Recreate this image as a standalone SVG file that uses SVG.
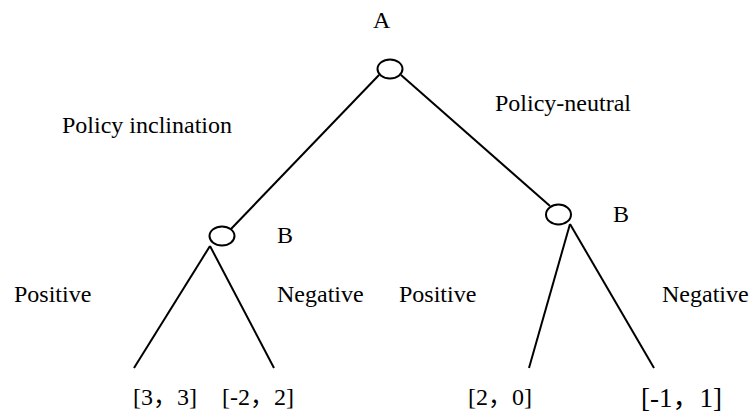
<svg xmlns="http://www.w3.org/2000/svg" width="749" height="414" viewBox="0 0 749 414">
<style>
.t{font-family:"Liberation Serif","Times New Roman",serif;font-size:24px;fill:#000}
.c{font-family:"Noto Sans CJK SC",sans-serif}
.big{font-size:27px}
.n{fill:#fff;stroke:#000;stroke-width:2}
.e{stroke:#000;stroke-width:2;fill:none}
</style>
<rect width="749" height="414" fill="#fff"/>
<g id="connectors">
<line class="e" x1="379" y1="75" x2="231" y2="229"/>
<line class="e" x1="401" y1="75" x2="550" y2="206"/>
<line class="e" x1="210" y1="246" x2="134" y2="368"/>
<line class="e" x1="210" y1="246" x2="274" y2="368"/>
<line class="e" x1="570" y1="224" x2="529" y2="368"/>
<line class="e" x1="570" y1="224" x2="654" y2="368"/>
</g>
<g id="nodeA"><ellipse class="n" cx="390" cy="69" rx="12.5" ry="9.5"/><text class="t" x="373" y="28">A</text></g>
<g id="nodeB1"><ellipse class="n" cx="222" cy="236" rx="12.5" ry="9.5"/><text class="t" x="277" y="243">B</text></g>
<g id="nodeB2"><ellipse class="n" cx="558.5" cy="214.5" rx="12.5" ry="10"/><text class="t" x="613" y="222">B</text></g>
<g id="labels">
<text class="t" x="62" y="133">Policy inclination</text>
<text class="t" x="495" y="111">Policy-neutral</text>
<text class="t" x="14" y="302">Positive</text>
<text class="t" x="277" y="302">Negative</text>
<text class="t" x="399" y="302">Positive</text>
<text class="t" x="662" y="302">Negative</text>
</g>
<g id="leaves">
<text class="t" x="133" y="405">[3<tspan class="c">，</tspan>3]</text>
<text class="t" x="222" y="405">[-2<tspan class="c">，</tspan>2]</text>
<text class="t" x="468" y="405">[2<tspan class="c">，</tspan>0]</text>
<text class="t big" x="641" y="407">[-1<tspan class="c">，</tspan>1]</text>
</g>
</svg>
